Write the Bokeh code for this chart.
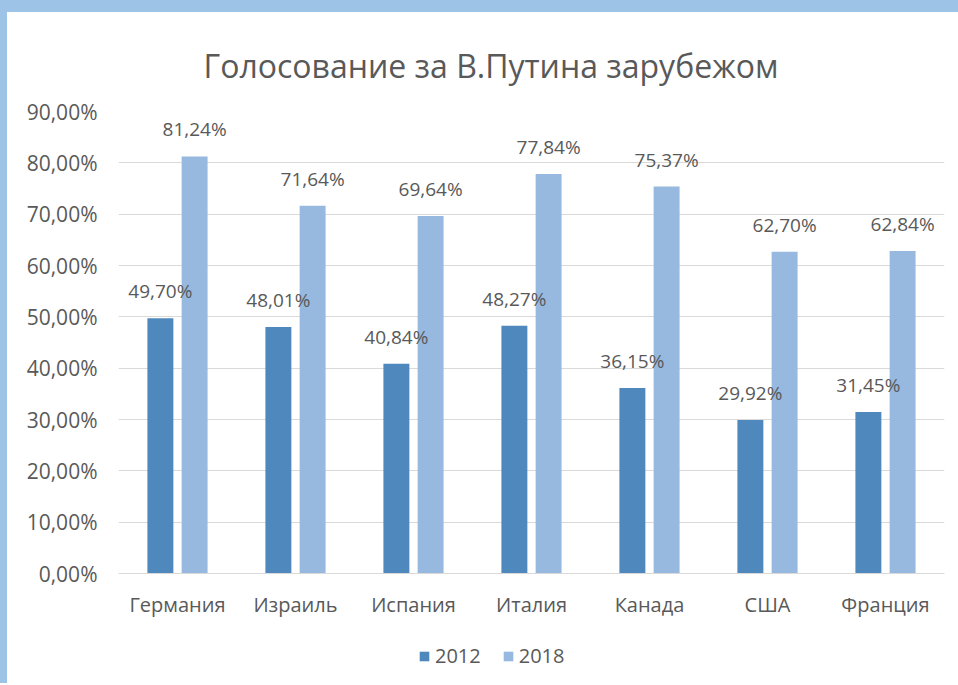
from bokeh.plotting import figure
from bokeh.models import ColumnDataSource, Legend, LegendItem, FixedTicker, Div
from bokeh.layouts import column, row
from bokeh.transform import dodge
from bokeh.core.properties import value
from bokeh.embed import file_html
from bokeh.resources import INLINE

countries = ["Германия", "Израиль", "Испания", "Италия", "Канада", "США", "Франция"]
v2012 = [0.4970, 0.4801, 0.4084, 0.4827, 0.3615, 0.2992, 0.3145]
v2018 = [0.8124, 0.7164, 0.6964, 0.7784, 0.7537, 0.6270, 0.6284]
series = ["2012", "2018"]
y_ticks = [0.0, 0.1, 0.2, 0.3, 0.4, 0.5, 0.6, 0.7, 0.8, 0.9]
title_text = "Голосование за В.Путина зарубежом"

def pct(v):
    return ("%.2f%%" % (v * 100)).replace(".", ",")

src = ColumnDataSource(dict(
    x=countries, a=v2012, b=v2018,
    la=[pct(v) for v in v2012], lb=[pct(v) for v in v2018],
))

FONT = "Open Sans"
TXT = "#595959"
C1 = "#4F88BC"
C2 = "#97B9E0"
FRAME = "#9DC3E6"

chart = figure(x_range=countries, y_range=(0, 0.9), width=951, height=611,
               output_backend="svg", toolbar_location=None,
               min_border_left=111, min_border_right=14, min_border_top=99,
               min_border_bottom=50, title=title_text)
chart.outline_line_color = None
chart.title.align = "left"
chart.title.offset = 85
chart.title.text_font = FONT
chart.title.text_font_size = "32px"
chart.title.text_font_style = "normal"
chart.title.text_color = TXT
chart.title.standoff = 50

chart.vbar(x=dodge("x", -0.145, range=chart.x_range), top="a", width=0.22, source=src,
           fill_color=C1, line_color=None)
chart.vbar(x=dodge("x", 0.145, range=chart.x_range), top="b", width=0.22, source=src,
           fill_color=C2, line_color=None)

chart.text(x=dodge("x", -0.145, range=chart.x_range), y="a", text="la", source=src,
           text_align="center", text_baseline="bottom", y_offset=-14,
           text_font=value(FONT), text_font_size="19px", text_color=TXT)
chart.text(x=dodge("x", 0.145, range=chart.x_range), y="b", text="lb", source=src,
           text_align="center", text_baseline="bottom", y_offset=-14,
           text_font=value(FONT), text_font_size="19px", text_color=TXT)

chart.yaxis.ticker = FixedTicker(ticks=y_ticks)
chart.yaxis.major_label_overrides = {t: pct(t) for t in y_ticks}
for ax in (chart.xaxis, chart.yaxis):
    ax.major_tick_line_color = None
    ax.minor_tick_line_color = None
    ax.major_label_text_font = FONT
    ax.major_label_text_color = TXT
chart.yaxis.major_label_text_font_size = "21px"
chart.xaxis.major_label_text_font_size = "20px"
chart.yaxis.axis_line_color = None
chart.yaxis.major_label_standoff = 15
chart.xaxis.axis_line_color = "#D9D9D9"
chart.xaxis.major_label_standoff = 11
chart.xgrid.grid_line_color = None
chart.ygrid.grid_line_color = "#D9D9D9"

# legend strip below the chart (bars drawn out of its visible y range)
leg = figure(width=951, height=60, x_range=countries, y_range=(1, 2),
             output_backend="svg", toolbar_location=None,
             x_axis_location=None, y_axis_location=None,
             min_border=0)
leg.outline_line_color = None
leg.grid.grid_line_color = None
g1 = leg.vbar(x="x", top="a", width=0.22, source=src, fill_color=C1, line_color=None)
g2 = leg.vbar(x="x", top="b", width=0.22, source=src, fill_color=C2, line_color=None)
legend = Legend(items=[LegendItem(label=series[0], renderers=[g1]),
                       LegendItem(label=series[1], renderers=[g2])],
                orientation="horizontal", location=(300, 14),
                glyph_width=12, glyph_height=12, label_text_font=FONT,
                label_text_font_size="20px", label_text_color=TXT,
                border_line_color=None, background_fill_alpha=0, spacing=21,
                label_standoff=5, padding=5, margin=0)
leg.add_layout(legend, "center")

top_strip = Div(text="", width=958, height=12, margin=0,
                styles={"background-color": FRAME})
left_strip = Div(text="", width=7, height=671, margin=0,
                 styles={"background-color": FRAME})

p = column(top_strip, row(left_strip, column(chart, leg, spacing=0), spacing=0), spacing=0)

open("out.html", "w").write(file_html(p, INLINE))
